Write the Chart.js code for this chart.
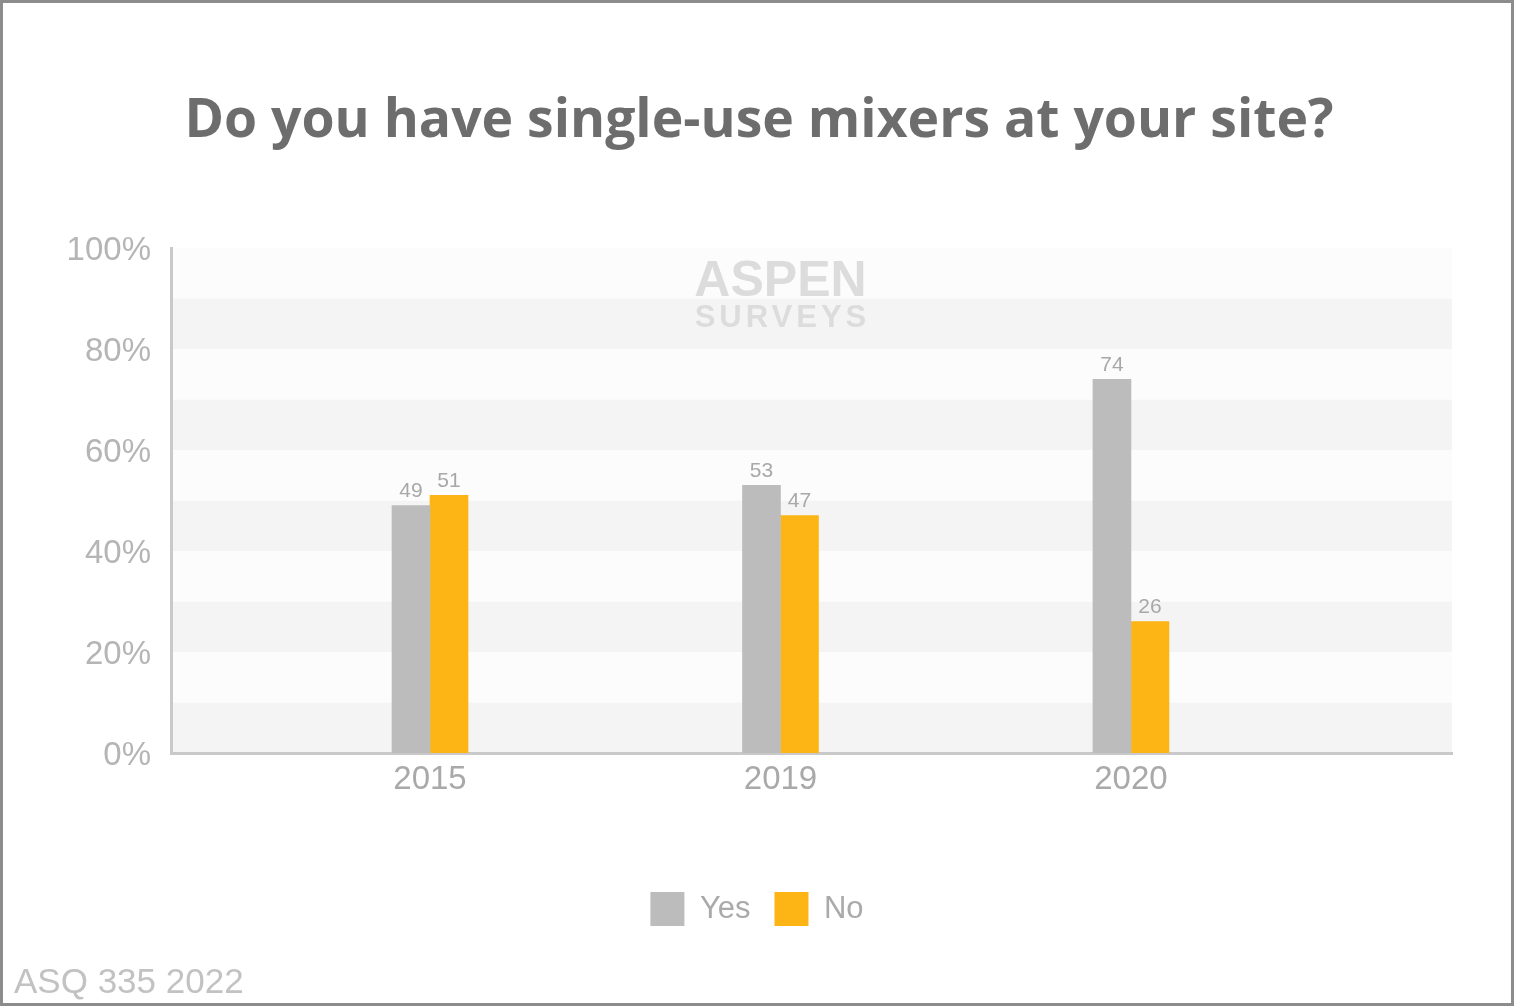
<!DOCTYPE html>
<html>
<head>
<meta charset="utf-8">
<script src="https://cdn.jsdelivr.net/npm/chart.js@4/dist/chart.umd.min.js"></script>
<style>
  html, body { margin: 0; padding: 0; background: #ffffff; }
  #wrap { width: 1514px; height: 1006px; position: relative; }
  canvas { display: block; }
</style>
</head>
<body>
<div id="wrap"><canvas id="c" width="1514" height="1006"></canvas></div>
<script>
const categories = ['2015', '2019', '2020'];
const seriesNames = ['Yes', 'No'];
const yesValues = [49, 53, 74];
const noValues = [51, 47, 26];
const yTicks = [0, 20, 40, 60, 80, 100];
const titleText = 'Do you have single-use mixers at your site?';
const footerText = 'ASQ 335 2022';
const watermark = ['ASPEN', 'SURVEYS'];

const GRAY = '#bdbcbc';
const YELLOW = '#fdb515';

const bandsPlugin = {
  id: 'bands',
  beforeDraw(chart) {
    const { ctx, chartArea } = chart;
    const y = chart.scales.y;
    ctx.save();
    ctx.fillStyle = '#ffffff';
    ctx.fillRect(0, 0, chart.width, chart.height);
    for (let v = 0; v < 100; v += 10) {
      const top = y.getPixelForValue(v + 10);
      const bot = y.getPixelForValue(v);
      ctx.fillStyle = ((v / 10) % 2 === 0) ? '#f4f4f4' : '#fcfcfc';
      ctx.fillRect(chartArea.left, top, chartArea.right - chartArea.left, bot - top);
    }
    // watermark
    const cx = chart.scales.x.getPixelForValue(1);
    ctx.fillStyle = '#dcdcdc';
    ctx.textAlign = 'center';
    ctx.textBaseline = 'middle';
    ctx.font = 'bold 50px "Liberation Sans", Arial, sans-serif';
    ctx.fillText(watermark[0], cx, y.getPixelForValue(93.3));
    ctx.font = 'bold 31px "Liberation Sans", Arial, sans-serif';
    if ('letterSpacing' in ctx) ctx.letterSpacing = '4px';
    ctx.fillText(watermark[1], cx + 2, y.getPixelForValue(86));
    if ('letterSpacing' in ctx) ctx.letterSpacing = '0px';
    ctx.restore();
  },
  afterDraw(chart) {
    const { ctx } = chart;
    ctx.save();
    ctx.fillStyle = '#6d6d6d';
    ctx.font = 'bold 53.5px "Open Sans", sans-serif';
    ctx.textAlign = 'center';
    ctx.textBaseline = 'middle';
    ctx.fillText(titleText, 759, 122);
    ctx.fillStyle = '#c2c2c2';
    ctx.font = '35px "Liberation Sans", Arial, sans-serif';
    ctx.textAlign = 'left';
    ctx.fillText(footerText, 14, 983);
    ctx.strokeStyle = '#8c8c8c';
    ctx.lineWidth = 3;
    ctx.strokeRect(1.5, 1.5, chart.width - 3, chart.height - 3);
    ctx.restore();
  }
};

const valueLabels = {
  id: 'valueLabels',
  afterDatasetsDraw(chart) {
    const { ctx } = chart;
    ctx.save();
    ctx.fillStyle = '#a8a8a8';
    ctx.font = '21px "Liberation Sans", Arial, sans-serif';
    ctx.textAlign = 'center';
    ctx.textBaseline = 'bottom';
    chart.data.datasets.forEach((ds, di) => {
      const meta = chart.getDatasetMeta(di);
      meta.data.forEach((el, i) => {
        ctx.fillText(String(ds.data[i].y), el.x, el.y - 4);
      });
    });
    ctx.restore();
  }
};

new Chart(document.getElementById('c'), {
  type: 'bar',
  data: {
    datasets: [
      { label: seriesNames[0], data: yesValues.map((v, i) => ({ x: i, y: v })), backgroundColor: GRAY, barThickness: 38 },
      { label: seriesNames[1], data: noValues.map((v, i) => ({ x: i, y: v })), backgroundColor: YELLOW, barThickness: 38 }
    ]
  },
  options: {
    responsive: false,
    animation: false,
    layout: { padding: { left: 0, right: 0, top: 248, bottom: 70 } },
    scales: {
      x: {
        type: 'linear',
        offset: false,
        min: -0.739,
        max: 2.916,
        afterBuildTicks(scale) { scale.ticks = categories.map((c, i) => ({ value: i })); },
        afterFit(scale) { scale.height = 115; },
        grid: { display: false, drawTicks: false },
        border: { display: true, color: '#c9c9c9', width: 3 },
        ticks: {
          padding: 7,
          color: '#a9a9a9',
          font: { family: '"Liberation Sans", Arial, sans-serif', size: 33 },
          callback: (v) => categories[v]
        }
      },
      y: {
        min: 0,
        max: 100,
        afterBuildTicks(scale) { scale.ticks = yTicks.map(v => ({ value: v })); },
        afterFit(scale) { scale.width = 171; },
        grid: { display: false, drawTicks: false },
        border: { display: true, color: '#c9c9c9', width: 3 },
        ticks: {
          padding: 20,
          labelOffset: 3,
          color: '#b5b5b5',
          font: { family: '"Liberation Sans", Arial, sans-serif', size: 33 },
          callback: (v) => v + '%'
        }
      },
      spacer: {
        type: 'linear',
        position: 'right',
        display: true,
        afterFit(scale) { scale.width = 62; },
        grid: { display: false, drawTicks: false },
        border: { display: false },
        ticks: { display: false }
      }
    },
    plugins: {
      title: { display: false },
      legend: {
        display: true,
        position: 'bottom',
        labels: {
          boxWidth: 34,
          boxHeight: 34,
          padding: 24,
          color: '#aaaaaa',
          font: { family: '"Liberation Sans", Arial, sans-serif', size: 31 }
        }
      },
      tooltip: { enabled: false }
    }
  },
  plugins: [bandsPlugin, valueLabels]
});
</script>
</body>
</html>
